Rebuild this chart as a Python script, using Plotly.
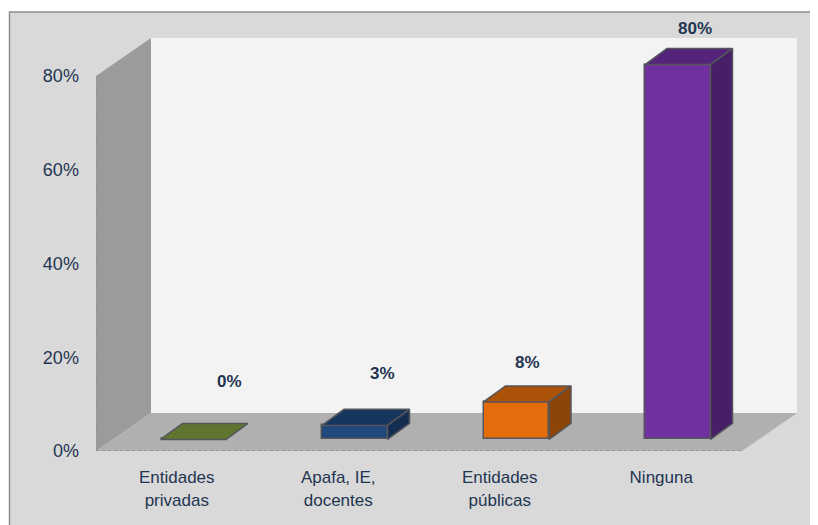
import plotly.graph_objects as go

# --- data ---
categories = ["Entidades<br>privadas", "Apafa, IE,<br>docentes", "Entidades<br>públicas", "Ninguna"]
values = [0, 3, 8, 80]
y_ticks = [0, 20, 40, 60, 80]
y_tick_labels = ["0%", "20%", "40%", "60%", "80%"]

# --- styles ---
front_colors = ["#5f7530", "#1f497d", "#e46c0a", "#7030a0"]
top_colors = ["#5f7530", "#17365d", "#ab5108", "#54247a"]
side_colors = ["#4c5e26", "#142e52", "#8c4507", "#461f66"]
edge = "#55565c"
text_color = "#1f3552"

# --- geometry, pixels (page coordinates; the page body adds an 8 px margin) ---
BODY = 8
FIG_W, FIG_H = 818 - BODY, 525 - BODY
PX_L, PX_R, PX_T, PX_B = 96 - BODY, 797 - BODY, 38 - BODY, 451 - BODY
FRAME_L, FRAME_T = 9.5 - BODY, 12 - BODY
PX_PER_CAT = 161.5
PX_PER_PCT = (451 - 77) / 80
WALL_DX, WALL_DY = 55, 38
BAR_OFF_X, BAR_OFF_Y = 16.5, 11.5
BAR_W = 65.5
BAR_DX, BAR_DY = 22, 16
label_dx = [36, 28, 11, 17]
label_dy = [58, 52, 39, 36]

def px_x(p):
    return p / PX_PER_CAT

def px_y(p):
    return p / PX_PER_PCT

x_lo = -0.5
x_front_hi = 3.5
x_hi = x_front_hi + px_x(WALL_DX)
y_back = px_y(WALL_DY)
y_hi = 80 + y_back

def path(points):
    return "M " + " L ".join(f"{a},{b}" for a, b in points) + " Z"

def wall(points, fill):
    return dict(type="path", path=path(points), xref="x", yref="y", fillcolor=fill,
                line=dict(width=0), layer="below")

shapes = [
    dict(type="rect", xref="paper", yref="paper",
         x0=(FRAME_L - PX_L) / (PX_R - PX_L), x1=1.1,
         y0=-0.3, y1=(PX_B - FRAME_T) / (PX_B - PX_T),
         fillcolor="#d9d9d9", line=dict(color="#8e8e8e", width=1.5), layer="below"),
    wall([(x_lo + px_x(WALL_DX), y_back), (x_hi, y_back), (x_hi, y_hi), (x_lo + px_x(WALL_DX), y_hi)], "#f3f3f3"),
    wall([(x_lo, 0), (x_lo, 80), (x_lo + px_x(WALL_DX), y_hi), (x_lo + px_x(WALL_DX), y_back)], "#9b9b9b"),
    wall([(x_lo, 0), (x_front_hi, 0), (x_hi, y_back), (x_lo + px_x(WALL_DX), y_back)], "#b0b0b0"),
    dict(type="line", xref="x", yref="y", x0=x_lo, x1=x_front_hi, y0=0, y1=0,
         line=dict(color="#8e8e8e", width=1.5, dash="dot"), layer="below"),
    dict(type="line", xref="x", yref="y", x0=x_lo, x1=x_lo, y0=0, y1=80,
         line=dict(color="#8e8e8e", width=1, dash="dot"), layer="below"),
]

xc = [i + px_x(BAR_OFF_X) for i in range(len(values))]
base = px_y(BAR_OFF_Y)
half = px_x(BAR_W) / 2
ddx, ddy = px_x(BAR_DX), px_y(BAR_DY)

fig = go.Figure()
fig.add_trace(go.Bar(
    x=xc, y=values, base=base, width=px_x(BAR_W),
    marker=dict(color=front_colors, line=dict(color=edge, width=1.5)),
    showlegend=False, hoverinfo="skip",
))

for c, v, top_c, side_c in zip(xc, values, top_colors, side_colors):
    t = base + v
    l, r = c - half, c + half
    fig.add_trace(go.Scatter(
        x=[l, r, r + ddx, l + ddx, l], y=[t, t, t + ddy, t + ddy, t],
        mode="lines", fill="toself", fillcolor=top_c,
        line=dict(color=edge, width=1.5), showlegend=False, hoverinfo="skip"))
    if v > 0:
        fig.add_trace(go.Scatter(
            x=[r, r + ddx, r + ddx, r, r], y=[base, base + ddy, t + ddy, t, base],
            mode="lines", fill="toself", fillcolor=side_c,
            line=dict(color=edge, width=1.5), showlegend=False, hoverinfo="skip"))

annotations = [
    dict(x=c, y=base + v, xref="x", yref="y", text=f"<b>{v}%</b>", showarrow=False,
         xshift=dx, yshift=dy, xanchor="center", yanchor="middle",
         font=dict(family="Liberation Sans", size=17, color=text_color))
    for c, v, dx, dy in zip(xc, values, label_dx, label_dy)
]

fig.update_layout(
    width=FIG_W, height=FIG_H,
    margin=dict(l=PX_L, r=FIG_W - PX_R, t=PX_T, b=FIG_H - PX_B),
    paper_bgcolor="white", plot_bgcolor="rgba(0,0,0,0)",
    shapes=shapes, annotations=annotations, bargap=0,
    font=dict(family="Liberation Sans", size=17, color=text_color),
    xaxis=dict(range=[x_lo, x_hi], tickmode="array", tickvals=list(range(len(categories))),
               ticktext=categories, showgrid=False, zeroline=False, showline=False,
               ticks="outside", ticklen=11, tickcolor="rgba(0,0,0,0)", tickangle=0,
               tickfont=dict(size=17, color=text_color)),
    yaxis=dict(range=[0, y_hi], tickmode="array", tickvals=y_ticks, ticktext=y_tick_labels,
               showgrid=False, zeroline=False, showline=False,
               ticks="outside", ticklen=12.5, tickcolor="rgba(0,0,0,0)",
               tickfont=dict(size=18, color=text_color)),
)

fig.write_html("out.html")
